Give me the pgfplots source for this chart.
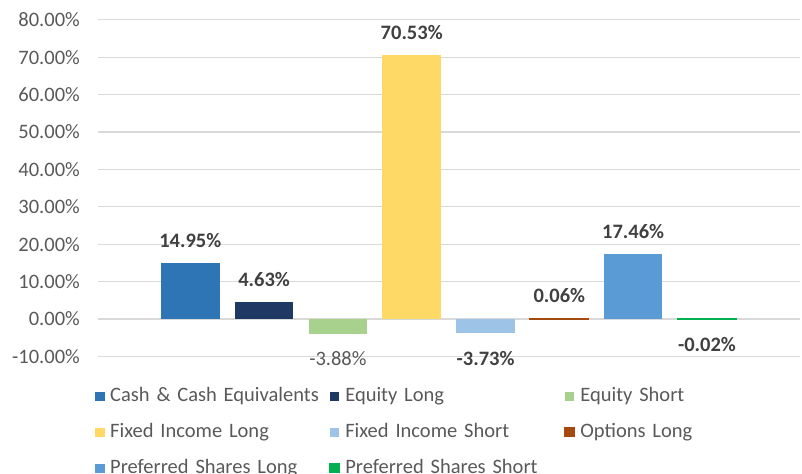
\documentclass[border=0pt]{standalone}
\usepackage{fontspec}
\setmainfont{Carlito}
\usepackage{pgfplots}
\pgfplotsset{compat=1.18}
\definecolor{cCash}{HTML}{2E75B6}
\definecolor{cEqL}{HTML}{203864}
\definecolor{cEqS}{HTML}{A9D18E}
\definecolor{cFIL}{HTML}{FFD966}
\definecolor{cFIS}{HTML}{9DC3E6}
\definecolor{cOpt}{HTML}{A44A0F}
\definecolor{cPrL}{HTML}{5B9BD5}
\definecolor{cPrS}{HTML}{00B050}
\definecolor{gridgray}{HTML}{D9D9D9}
\definecolor{tickgray}{HTML}{595959}
\definecolor{lblgray}{HTML}{404040}
\newcommand\fs{\fontsize{20.5bp}{24bp}\selectfont}
\pgfplotsset{
  mybar/.style={ybar, bar width=58.5bp, bar shift=0pt, fill=#1, draw=none,
    /pgfplots/legend image code/.code={\fill[fill=#1] (0bp,1.2bp) rectangle (9.4bp,10.2bp);}},
  neglabel/.style={every node near coord/.append style={anchor=north, yshift=-3bp}},
}
\begin{document}
\begin{tikzpicture}
\useasboundingbox (0,0) rectangle (802bp,474bp);
\begin{axis}[
  at={(98bp,117.6bp)}, anchor=south west,
  scale only axis, width=702bp, height=336.6bp,
  xmin=-1.25, xmax=8.26,
  ymin=-10, ymax=80,
  ytick={-10,0,...,80},
  yticklabels={-10.00\%,0.00\%,10.00\%,20.00\%,30.00\%,40.00\%,50.00\%,60.00\%,70.00\%,80.00\%},
  xtick=\empty,
  axis line style={draw=none},
  major tick length=0pt,
  ymajorgrids, grid style={color=gridgray, line width=1.2bp},
  yticklabel style={font=\fs, text=tickgray, inner sep=0pt, xshift=-18bp},
  /pgf/number format/assume math mode=true,
  clip=false,
  nodes near coords={\pgfmathprintnumber[fixed,fixed zerofill,precision=2]{\pgfplotspointmeta}\%},
  every node near coord/.append style={font=\fs\bfseries, text=lblgray, inner ysep=15bp, inner xsep=0pt},
  legend columns=3,
  legend style={draw=none, fill=none, at={(0,0)}, anchor=north west,
    xshift=-2.7bp, yshift=-31.5bp, inner sep=0pt, outer sep=0pt,
    row sep=18bp, font=\fs,
    cells={anchor=base west},
    nodes={inner sep=0pt, text=tickgray, text height=14bp, text depth=4bp, text width=218.8bp, align=left},
    /tikz/every odd column/.append style={column sep=5.5bp}},
]
\addplot[mybar=cCash] coordinates {(0,14.95)};
\addlegendentry{Cash \& Cash Equivalents}
\addplot[mybar=cEqL] coordinates {(1,4.63)};
\addlegendentry{Equity Long}
\addplot[mybar=cEqS, neglabel, every node near coord/.append style={font=\fs\mdseries, text=tickgray}] coordinates {(2,-3.88)};
\addlegendentry{Equity Short}
\addplot[mybar=cFIL] coordinates {(3,70.53)};
\addlegendentry{Fixed Income Long}
\addplot[mybar=cFIS, neglabel] coordinates {(4,-3.73)};
\addlegendentry{Fixed Income Short}
\addplot[mybar=cOpt, draw=cOpt, line width=1.4bp] coordinates {(5,0.06)};
\addlegendentry{Options Long}
\addplot[mybar=cPrL] coordinates {(6,17.46)};
\addlegendentry{Preferred Shares Long}
\addplot[mybar=cPrS, draw=cPrS, line width=1.4bp, neglabel] coordinates {(7,-0.02)};
\addlegendentry{Preferred Shares Short}
\end{axis}
\end{tikzpicture}
\end{document}
